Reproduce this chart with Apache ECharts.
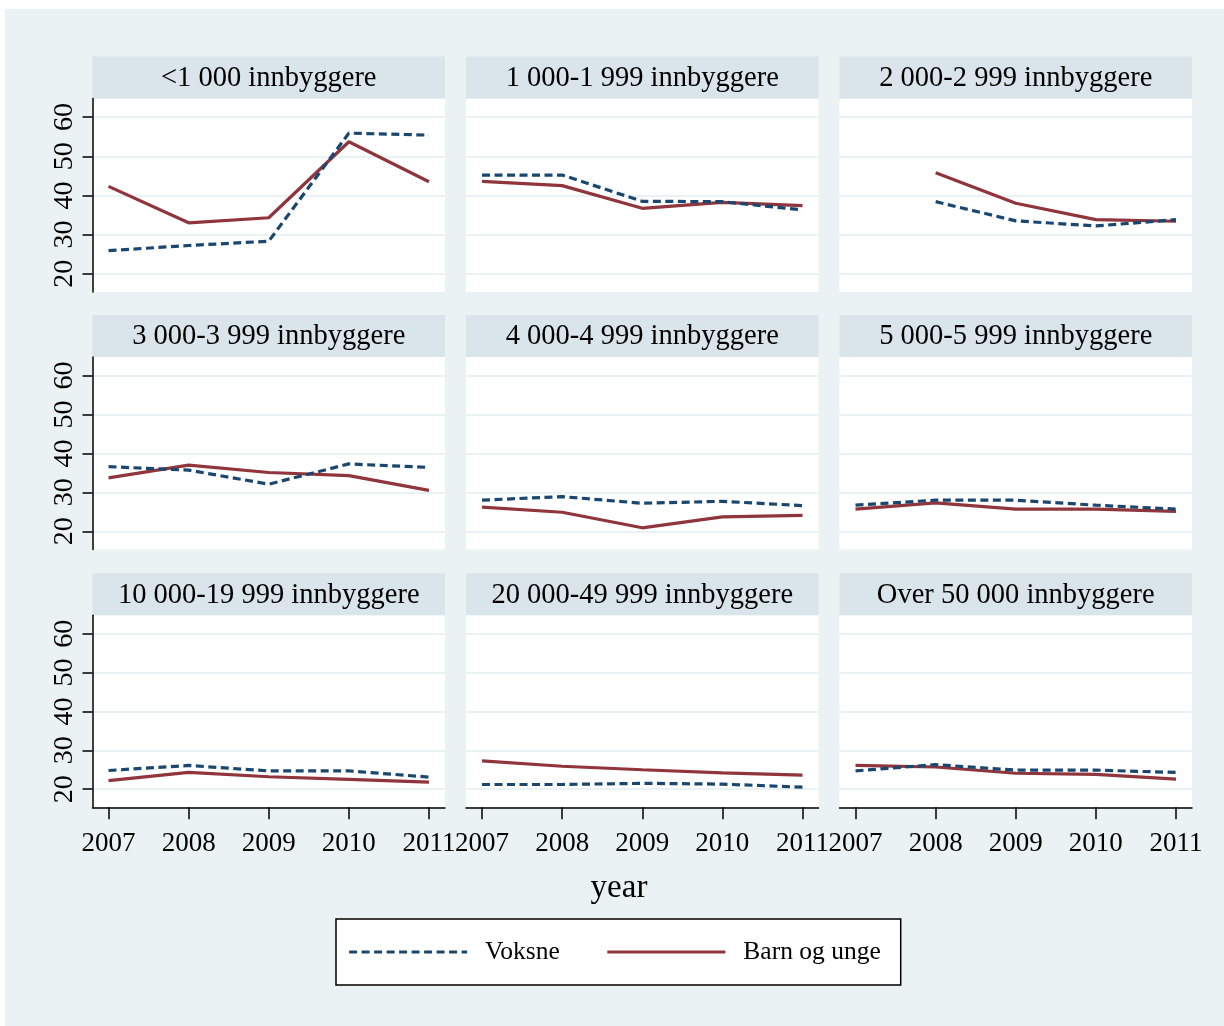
<!DOCTYPE html>
<html>
<head>
<meta charset="utf-8">
<script src="https://cdn.jsdelivr.net/npm/echarts@6/dist/echarts.min.js"></script>
<style>
body { margin: 0; background: #fff; }
#bg { position: absolute; left: 5px; top: 9px; width: 1219px; height: 1017px; background: #eaf2f3; }
#main { position: absolute; left: 0; top: 0; width: 1224px; height: 1026px; }
</style>
</head>
<body>
<div id="bg"></div>
<div id="main"></div>
<script>
const years = [2007, 2008, 2009, 2010, 2011];
const yTicks = [20, 30, 40, 50, 60];
const panelTitles = [
  '<1 000 innbyggere', '1 000-1 999 innbyggere', '2 000-2 999 innbyggere',
  '3 000-3 999 innbyggere', '4 000-4 999 innbyggere', '5 000-5 999 innbyggere',
  '10 000-19 999 innbyggere', '20 000-49 999 innbyggere', 'Over 50 000 innbyggere'
];
// one row per panel, values for 2007..2011
const voksne = [
  [25.9, 27.2, 28.3, 55.9, 55.4],
  [45.2, 45.2, 38.5, 38.4, 36.3],
  [null, 38.4, 33.5, 32.2, 33.8],
  [36.6, 35.7, 32.1, 37.3, 36.4],
  [28.0, 28.9, 27.2, 27.7, 26.6],
  [26.7, 28.0, 28.0, 26.7, 25.7],
  [24.8, 26.1, 24.7, 24.7, 23.1],
  [21.2, 21.2, 21.5, 21.3, 20.5],
  [24.7, 26.3, 24.9, 24.9, 24.3]
];
const barnOgUnge = [
  [42.3, 33.0, 34.3, 53.7, 43.5],
  [43.6, 42.5, 36.7, 38.2, 37.4],
  [null, 45.8, 38.0, 33.8, 33.4],
  [33.7, 37.0, 35.1, 34.3, 30.5],
  [26.2, 24.9, 20.9, 23.7, 24.1],
  [25.7, 27.3, 25.7, 25.7, 25.1],
  [22.2, 24.3, 23.2, 22.5, 21.8],
  [27.3, 25.9, 25.0, 24.2, 23.6],
  [26.1, 25.7, 24.1, 23.8, 22.6]
];

const font = 'Liberation Serif';
const navy = '#1a476f';
const maroon = '#90353b';
const lefts = [92.5, 466, 839.5];
const tops = [98.5, 357, 615.3];
const heights = [193.5, 192.5, 192];
const panelW = 352.5;
const headerH = 42;

const chart = echarts.init(document.getElementById('main'));

const grid = [], xAxis = [], yAxis = [], series = [], graphic = [];
panelTitles.forEach((title, i) => {
  const row = Math.floor(i / 3), col = i % 3;
  grid.push({
    left: lefts[col], top: tops[row], width: panelW, height: heights[row],
    show: true, backgroundColor: '#fff', borderWidth: 0
  });
  xAxis.push({
    type: 'value', gridIndex: i, min: 2006.8, max: 2011.2,
    axisLine: { show: row === 2, onZero: false, lineStyle: { color: '#000', width: 1.5 } },
    axisTick: { show: row === 2, length: 12, customValues: years, lineStyle: { color: '#000', width: 1.5 } },
    axisLabel: {
      show: row === 2, customValues: years, formatter: v => String(v), margin: 23,
      fontFamily: font, fontSize: 27, color: '#000'
    },
    splitLine: { show: false }
  });
  yAxis.push({
    type: 'value', gridIndex: i, min: 15.33, max: 64.75,
    axisLine: { show: col === 0, lineStyle: { color: '#000', width: 1.5 } },
    axisTick: { show: col === 0, length: 10, customValues: yTicks, lineStyle: { color: '#000', width: 1.5 } },
    axisLabel: {
      show: col === 0, customValues: yTicks, rotate: 90, margin: 14,
      fontFamily: font, fontSize: 28, color: '#000'
    },
    splitLine: { show: true, lineStyle: { color: '#eaf2f3', width: 2 } }
  });
  series.push({
    name: 'Voksne', type: 'line', xAxisIndex: i, yAxisIndex: i,
    data: years.map((y, k) => [y, voksne[i][k]]),
    symbol: 'none', showSymbol: false, z: 3,
    lineStyle: { color: navy, width: 3.2, type: [8, 4.5] },
    itemStyle: { color: navy }
  });
  series.push({
    name: 'Barn og unge', type: 'line', xAxisIndex: i, yAxisIndex: i,
    data: years.map((y, k) => [y, barnOgUnge[i][k]]),
    symbol: 'none', showSymbol: false, z: 2,
    lineStyle: { color: maroon, width: 3.2, type: 'solid' },
    itemStyle: { color: maroon }
  });
  graphic.push({
    type: 'rect', left: lefts[col], top: tops[row] - headerH,
    shape: { width: panelW, height: headerH }, style: { fill: '#d9e5eb' }
  });
  graphic.push({
    type: 'text', x: lefts[col] + panelW / 2, y: tops[row] - headerH / 2 + 1,
    style: { text: title, fontFamily: font, fontSize: 28.5, fill: '#000', align: 'center', verticalAlign: 'middle' }
  });
});

graphic.push({
  type: 'text', x: 619, y: 888,
  style: { text: 'year', fontFamily: font, fontSize: 33, fill: '#000', align: 'center', verticalAlign: 'middle' }
});

chart.setOption({
  animation: false,
  backgroundColor: 'transparent',
  grid: grid,
  xAxis: xAxis,
  yAxis: yAxis,
  series: series,
  graphic: graphic,
  legend: {
    data: ['Voksne', 'Barn og unge'],
    left: 336, top: 919,
    backgroundColor: '#fff', borderColor: '#000', borderWidth: 1.5, borderRadius: 0,
    padding: [20, 20, 20, 11.5],
    itemWidth: 118, itemHeight: 14, itemGap: 46,
    itemStyle: { opacity: 0 },
    lineStyle: { width: 3.2 },
    textStyle: { fontFamily: font, fontSize: 25.5, color: '#000', lineHeight: 26, padding: [0, 0, 0, 13] }
  }
});
</script>
</body>
</html>
